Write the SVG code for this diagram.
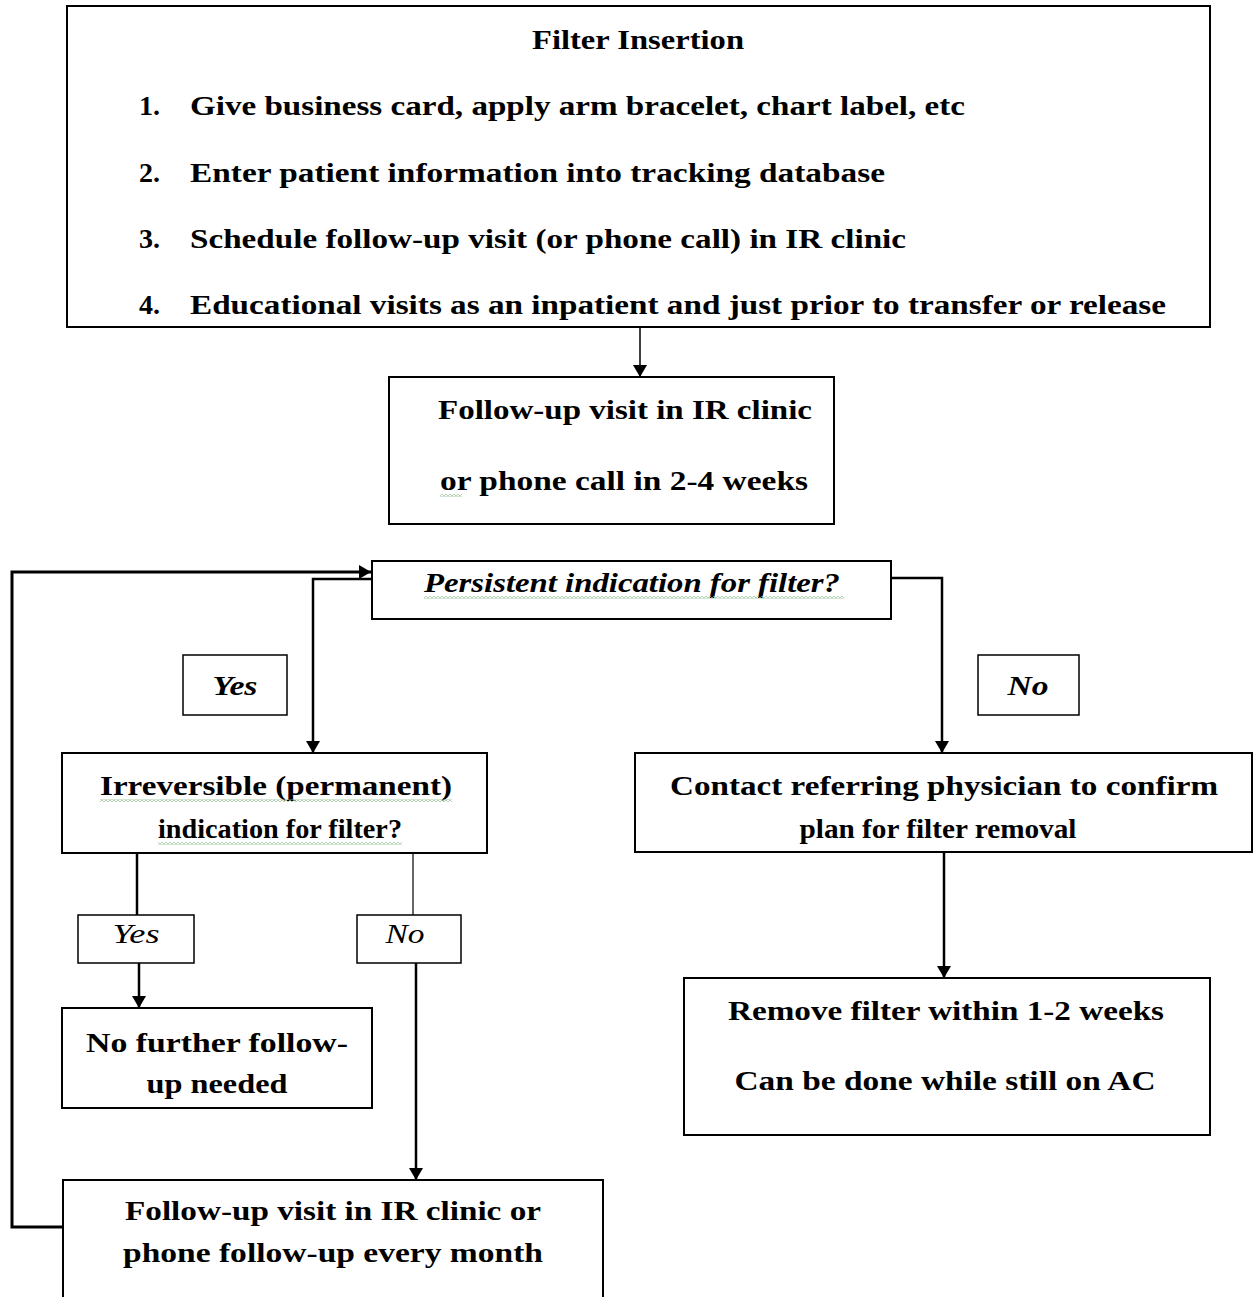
<svg xmlns="http://www.w3.org/2000/svg" width="1253" height="1297" viewBox="0 0 1253 1297">
<style>
.box{fill:#fff;stroke:#000;stroke-width:2}
.t{font-family:"Liberation Serif","Times New Roman",serif;font-weight:bold;font-size:28px;fill:#000;font-variant-ligatures:none;font-feature-settings:"liga" 0}
.i{font-style:italic}
.c{stroke:#000;stroke-width:2.5;fill:none}
.thin{stroke:#000;stroke-width:1.2;fill:none}
</style>
<defs>
<marker id="ah" viewBox="0 0 12 14" refX="12" refY="7" markerWidth="12" markerHeight="14" markerUnits="userSpaceOnUse" orient="auto">
<path d="M0,0 L12,7 L0,14 z" fill="#000"/>
</marker>
<pattern id="wave" width="4" height="3" patternUnits="userSpaceOnUse">
<path d="M0,0 L2,3 L4,0" stroke="#8fbf8f" stroke-width="0.8" fill="none"/>
</pattern>
</defs>
<rect width="1253" height="1297" fill="#fff"/>

<g id="connectors">
<path class="c" d="M640,327 V377" marker-end="url(#ah)" style="stroke-width:1.5"/>
<path class="c" d="M63,1227 H12 V572 H371" marker-end="url(#ah)" style="stroke-width:3"/>
<path class="c" d="M372,579 H313 V753" marker-end="url(#ah)"/>
<path class="c" d="M891,578 H942 V753" marker-end="url(#ah)"/>
<path class="c" d="M944,852 V978" marker-end="url(#ah)"/>
<path class="c" d="M137,853 V915"/>
<path class="c" d="M139,963 V1008" marker-end="url(#ah)"/>
<path class="thin" d="M413,853 V915"/>
<path class="c" d="M416,963 V1180" marker-end="url(#ah)"/>
</g>

<g id="filter-insertion">
<rect class="box" x="67" y="6" width="1143" height="321"/>
<text class="t" x="638" y="49" text-anchor="middle" textLength="212" lengthAdjust="spacingAndGlyphs">Filter Insertion</text>
<text class="t" x="139" y="115">1.</text>
<text class="t" x="190" y="115" textLength="775" lengthAdjust="spacingAndGlyphs">Give business card, apply arm bracelet, chart label, etc</text>
<text class="t" x="139" y="182">2.</text>
<text class="t" x="190" y="182" textLength="695" lengthAdjust="spacingAndGlyphs">Enter patient information into tracking database</text>
<text class="t" x="139" y="248">3.</text>
<text class="t" x="190" y="248" textLength="716" lengthAdjust="spacingAndGlyphs">Schedule follow-up visit (or phone call) in IR clinic</text>
<text class="t" x="139" y="314">4.</text>
<text class="t" x="190" y="314" textLength="976" lengthAdjust="spacingAndGlyphs">Educational visits as an inpatient and just prior to transfer or release</text>
</g>

<g id="followup-initial">
<rect class="box" x="389" y="377" width="445" height="147"/>
<text class="t" x="625" y="419" text-anchor="middle" textLength="374" lengthAdjust="spacingAndGlyphs">Follow-up visit in IR clinic</text>
<text class="t" x="624" y="490" text-anchor="middle" textLength="368" lengthAdjust="spacingAndGlyphs">or phone call in 2-4 weeks</text>
<rect x="440" y="494" width="22" height="3" fill="url(#wave)"/>
</g>

<g id="persistent">
<rect class="box" x="372" y="561" width="519" height="58"/>
<text class="t i" x="632" y="592" text-anchor="middle" textLength="416" lengthAdjust="spacingAndGlyphs">Persistent indication for filter?</text>
<rect x="424" y="596" width="420" height="3" fill="url(#wave)"/>
</g>

<g id="label-yes-1">
<rect class="box" x="183" y="655" width="104" height="60" style="stroke-width:1.5"/>
<text class="t i" x="235" y="695" text-anchor="middle" textLength="45" lengthAdjust="spacingAndGlyphs">Yes</text>
</g>

<g id="label-no-1">
<rect class="box" x="978" y="655" width="101" height="60" style="stroke-width:1.5"/>
<text class="t i" x="1028" y="695" text-anchor="middle" textLength="41" lengthAdjust="spacingAndGlyphs">No</text>
</g>

<g id="irreversible">
<rect class="box" x="62" y="753" width="425" height="100"/>
<text class="t" x="276" y="795" text-anchor="middle" textLength="352" lengthAdjust="spacingAndGlyphs">Irreversible (permanent)</text>
<text class="t" x="280" y="838" text-anchor="middle" textLength="244" lengthAdjust="spacingAndGlyphs">indication for filter?</text>
<rect x="100" y="799" width="352" height="3" fill="url(#wave)"/>
<rect x="158" y="842" width="244" height="3" fill="url(#wave)"/>
</g>

<g id="contact">
<rect class="box" x="635" y="753" width="617" height="99"/>
<text class="t" x="944" y="795" text-anchor="middle" textLength="548" lengthAdjust="spacingAndGlyphs">Contact referring physician to confirm</text>
<text class="t" x="938" y="838" text-anchor="middle" textLength="277" lengthAdjust="spacingAndGlyphs">plan for filter removal</text>
</g>

<g id="label-yes-2">
<rect class="box" x="78" y="915" width="116" height="48" style="stroke-width:1.5"/>
<text class="t i" x="136" y="943" text-anchor="middle" textLength="47" lengthAdjust="spacingAndGlyphs" style="font-weight:normal">Yes</text>
</g>

<g id="label-no-2">
<rect class="box" x="357" y="915" width="104" height="48" style="stroke-width:1.5"/>
<text class="t i" x="405" y="943" text-anchor="middle" textLength="39" lengthAdjust="spacingAndGlyphs" style="font-weight:normal">No</text>
</g>

<g id="no-further">
<rect class="box" x="62" y="1008" width="310" height="100"/>
<text class="t" x="217" y="1052" text-anchor="middle" textLength="262" lengthAdjust="spacingAndGlyphs">No further follow-</text>
<text class="t" x="217" y="1093" text-anchor="middle" textLength="141" lengthAdjust="spacingAndGlyphs">up needed</text>
</g>

<g id="remove">
<rect class="box" x="684" y="978" width="526" height="157"/>
<text class="t" x="946" y="1020" text-anchor="middle" textLength="436" lengthAdjust="spacingAndGlyphs">Remove filter within 1-2 weeks</text>
<text class="t" x="945" y="1090" text-anchor="middle" textLength="421" lengthAdjust="spacingAndGlyphs">Can be done while still on AC</text>
</g>

<g id="followup-monthly">
<rect class="box" x="63" y="1180" width="540" height="130"/>
<text class="t" x="333" y="1220" text-anchor="middle" textLength="416" lengthAdjust="spacingAndGlyphs">Follow-up visit in IR clinic or</text>
<text class="t" x="333" y="1262" text-anchor="middle" textLength="420" lengthAdjust="spacingAndGlyphs">phone follow-up every month</text>
</g>
</svg>
